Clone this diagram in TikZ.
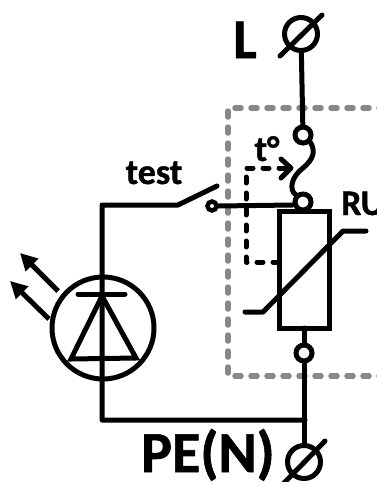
\documentclass[tikz,border=0pt]{standalone}
\usepackage{fontspec}
\setmainfont{Carlito}[BoldFeatures={FakeBold=1.1}]
\usetikzlibrary{arrows.meta,calc}
\tikzset{
  wire/.style={line width=5pt,line cap=round,line join=round,black},
  terminal/.style={circle,draw=black,line width=5pt,minimum size=33pt,inner sep=0pt,fill=white},
  contact/.style={circle,draw=black,line width=5pt,minimum size=16pt,inner sep=0pt,fill=white},
  lbl/.style={inner sep=0pt,text=black},
  housing/.style={draw={rgb,255:red,136;green,136;blue,136},line width=5.5pt,line cap=round,dash pattern=on 6pt off 10pt},
  link/.style={wire,dash pattern=on 6pt off 10pt},
}
\begin{document}
\begin{tikzpicture}[x=1pt,y=-1pt]
\useasboundingbox (0,0) rectangle (377,482);
% housing
\coordinate (hTR) at (385,108);
\coordinate (hTL) at (228,108);
\coordinate (hBL) at (228,376);
\coordinate (hBR) at (385,376);
\draw[housing] (hTR) -- (hTL) -- (hBL) -- (hBR);
% components
\node[terminal] (tL) at (301,34) {};
\node[contact] (c1) at (303,135) {};
\node[contact] (c2) at (303,202) {};
\node[contact] (c3) at (304,353) {};
\node[terminal] (tPE) at (304,462) {};
\node[draw=black,line width=5pt,minimum width=50pt,minimum height=117pt,inner sep=0pt,anchor=north west,outer sep=0pt] (var) at (279,211) {};
\node[circle,draw=black,line width=5pt,minimum size=102pt,inner sep=0pt] (led) at (103,328) {};
\node[circle,draw=black,line width=4.5pt,minimum size=9pt,inner sep=0pt,fill=white] (sw) at (212,206) {};
% terminals' slashes
\coordinate (s1a) at (280,56); \coordinate (s1b) at (322,15);
\coordinate (s2a) at (283,484); \coordinate (s2b) at (325,441);
\draw[wire] (s1a) -- (s1b);
\draw[wire] (s2a) -- (s2b);
% main line
\draw[wire] (tL) -- (c1);
\draw[wire] (c3) -- (tPE);
\draw[wire] (var.south -| c3) -- (c3);
% fuse
\draw[wire] (c1.south east) .. controls (315,150) and (315,158) .. (303,168)
  .. controls (291,177) and (289,190) .. (c2.north west);
% bar to switch
\coordinate (swTip) at (217,186);
\coordinate (swPiv) at (178,205);
\coordinate (corner1) at (102,205);
\coordinate (corner2) at (102,420);
\coordinate (joint) at (305,420);
\draw[wire] (c2.west) ++(0,3) -- (sw.east);
\draw[wire] (swTip) -- (swPiv) -- (corner1) -- (corner2) -- (joint);
% varistor stroke
\coordinate (v1) at (245,312); \coordinate (v2) at (263,312);
\coordinate (v3) at (343,231); \coordinate (v4) at (366,231);
\draw[wire] (v1) -- (v2) -- (v3) -- (v4);
% thermal link
\coordinate (d1) at (279,262); \coordinate (d2) at (246,262);
\coordinate (d3) at (246,168); \coordinate (d4) at (291,168);
\draw[link] (d1) -- (d2) -- (d3) -- (d4);
\coordinate (aa) at (281,159); \coordinate (ab) at (281,178);
\draw[wire] (aa) -- (d4) -- (ab);
% LED symbol
\coordinate (bl) at (78,294); \coordinate (br) at (125,294);
\coordinate (apex) at (102,296); \coordinate (t1) at (71,359); \coordinate (t2) at (136,358);
\draw[wire] (bl) -- (br);
\draw[wire,line join=miter] (apex) -- (t1) -- (t2) -- cycle;
% rays
\coordinate (r1a) at (58,291); \coordinate (r1b) at (20,253);
\coordinate (r2a) at (49,319); \coordinate (r2b) at (10,281);
\draw[wire,line cap=butt,-{Triangle[length=17pt,width=17pt]}] (r1a) -- (r1b);
\draw[wire,line cap=butt,-{Triangle[length=17pt,width=17pt]}] (r2a) -- (r2b);
% labels
\node[lbl,font=\bfseries\fontsize{56}{56}\selectfont,anchor=base] (lL) at (245,58) {L};
\node[lbl,font=\bfseries\fontsize{58}{58}\selectfont,anchor=base west] (lPE) at (141,472) {PE(N)};
\node[lbl,font=\bfseries\fontsize{36}{36}\selectfont,anchor=base] (lt) at (267,161) {t°};
\node[lbl,font=\bfseries\fontsize{36}{36}\selectfont,anchor=base] (ltest) at (154,184) {test};
\node[lbl,font=\bfseries\fontsize{36}{36}\selectfont,anchor=base west] (lRU) at (341,215) {RU};
\end{tikzpicture}
\end{document}
